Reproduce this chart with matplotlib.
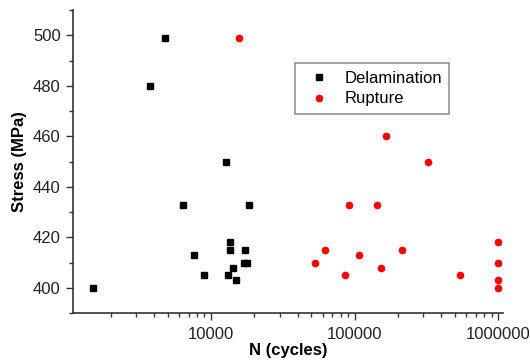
import matplotlib.pyplot as plt
from matplotlib.ticker import FixedLocator, FixedFormatter, LogLocator, NullFormatter, MultipleLocator

plt.rcParams['font.family'] = ['Liberation Sans', 'DejaVu Sans']

# Delamination (black squares)
delam_n = [1500, 3760, 4780, 6380, 7570, 8980, 12650, 13070, 13500, 13500,
           14230, 15000, 16900, 17250, 17900, 18500]
delam_s = [400, 480, 499, 433, 413, 405, 450, 405, 418, 415,
           408, 403, 410, 415, 410, 433]

# Rupture (red circles)
rupt_n = [15600, 52800, 62100, 85600, 91200, 107000, 142000, 153000, 166000,
          214000, 325000, 537000, 1e6, 1e6, 1e6, 1e6]
rupt_s = [499, 410, 415, 405, 433, 413, 433, 408, 460,
          415, 450, 405, 418, 410, 403, 400]

x_ticks = [10000, 100000, 1000000]
x_labels = ['10000', '100000', '1000000']
y_ticks = [400, 420, 440, 460, 480, 500]

fig = plt.figure(figsize=(5.3, 3.6), dpi=100)
ax = fig.add_axes([0.137, 0.130, 0.812, 0.842])

ax.plot(delam_n, delam_s, 's', color='black', markersize=4.5, label='Delamination')
ax.plot(rupt_n, rupt_s, 'o', color='#ff0000', markersize=4.5, label='Rupture')

ax.set_xscale('log')
ax.set_xlim(1087, 1.078e6)
ax.set_ylim(390, 510)

ax.xaxis.set_major_locator(FixedLocator(x_ticks))
ax.xaxis.set_major_formatter(FixedFormatter(x_labels))
ax.xaxis.set_minor_locator(LogLocator(base=10, subs=range(2, 10)))
ax.xaxis.set_minor_formatter(NullFormatter())
ax.set_yticks(y_ticks)
ax.yaxis.set_minor_locator(MultipleLocator(10))

for side in ['top', 'right']:
    ax.spines[side].set_visible(False)
for side in ['left', 'bottom']:
    ax.spines[side].set_color('#333333')
    ax.spines[side].set_linewidth(1.2)

ax.tick_params(which='major', direction='out', length=5, width=1, colors='#333333',
               labelsize=12, labelcolor='#222222')
ax.tick_params(axis='x', which='major', pad=5)
ax.tick_params(which='minor', direction='out', length=3, width=1, colors='#333333')

ax.set_xlabel('N (cycles)', fontsize=12, fontweight='bold', labelpad=1)
ax.set_ylabel('Stress (MPa)', fontsize=12, fontweight='bold', labelpad=4)

leg = ax.legend(loc='upper left', bbox_to_anchor=(0.517, 0.825), borderaxespad=0,
                fontsize=12, frameon=True, fancybox=False, edgecolor='#777777',
                borderpad=0.45, handlelength=2.0, handletextpad=0.5,
                labelspacing=0.35)
leg.get_frame().set_linewidth(1.2)

fig.savefig('out.png', dpi=100)
